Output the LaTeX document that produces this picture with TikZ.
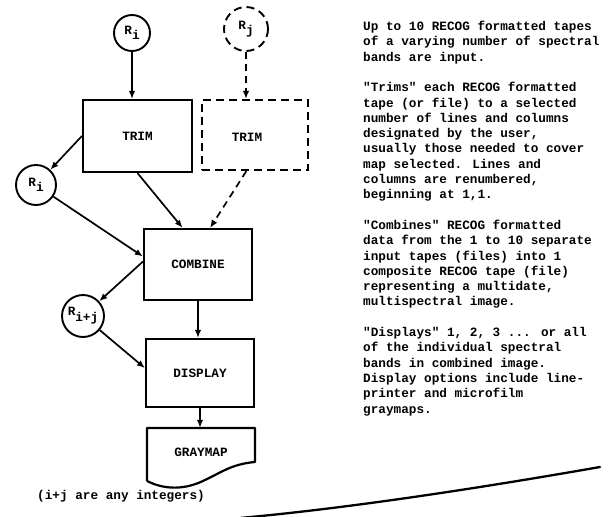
\documentclass[tikz,border=0pt]{standalone}
\usepackage{fontspec}
\newfontfamily\tw{Liberation Mono}
\usetikzlibrary{arrows.meta,calc}
\begin{document}
\begin{tikzpicture}[x=1pt,y=-1pt,
  every node/.style={font=\tw\bfseries\fontsize{12.7}{15.3}\selectfont, inner sep=0pt},
  box/.style={draw, line width=2.2pt},
  dbox/.style={draw, line width=2.2pt, dash pattern=on 8pt off 5pt},
  circ/.style={draw, circle, line width=1.9pt},
  arr/.style={line width=1.7pt, -{Latex[length=8pt,width=6.5pt]}},
  darr/.style={arr, dash pattern=on 7pt off 5pt},
  txt/.style={anchor=base west}]
\useasboundingbox (0,0) rectangle (611,517);

% nodes
\node[circ, minimum size=36pt] (ri1) at (132,33) {R\raisebox{-5pt}{i}};
\node[circ, minimum size=44pt, dash pattern=on 8pt off 5pt] (rj) at (246,29) {R\raisebox{-5pt}{j}};
\node[box, minimum width=109pt, minimum height=72pt] (trim) at (137.5,136) {TRIM};
\node[dbox, minimum width=106pt, minimum height=70pt] (dtrim) at (255,135) {};
\node (dtl) at (247,137) {TRIM};
\node[circ, minimum size=40pt] (ri2) at (36,185) {R\raisebox{-5pt}{i}};
\node[box, minimum width=108pt, minimum height=71pt] (comb) at (198,264.5) {COMBINE};
\node[circ, minimum size=42pt] (rij) at (83,316) {\raisebox{3pt}{R}\raisebox{-3pt}{i+j}};
\node[box, minimum width=108pt, minimum height=68pt] (disp) at (200,373) {DISPLAY};
\node[minimum width=108pt, minimum height=48pt] (gm) at (201,452) {GRAYMAP};
\draw[line width=2.2pt, line join=round] (147,481) -- (147,428) -- (255,428) -- (255,462)
  .. controls (232,464) and (222,472) .. (205,480)
  .. controls (185,490) and (165,490) .. (147,481);

% connectors
\draw[arr] (ri1.south) -- (ri1.south |- trim.north);
\draw[darr] (rj.south) -- (rj.south |- dtrim.north);
\draw[arr] (trim.west) -- (ri2);
\draw[arr] (trim.south) -- ($(comb.north west)!0.36!(comb.north east)$);
\draw[darr] ($(dtrim.south west)!0.42!(dtrim.south east)$) -- ($(comb.north west)!0.61!(comb.north east)$);
\draw[arr] (ri2) -- ($(comb.north west)!0.39!(comb.south west)$);
\draw[arr] ($(comb.north west)!0.46!(comb.south west)$) -- (rij);
\draw[arr] (rij) -- ($(disp.north west)!0.43!(disp.south west)$);
\draw[arr] (comb.south) -- (comb.south |- disp.north);
\draw[arr] (disp.south) -- (disp.south |- gm.north);

\node[txt] (note) at (37,499) {(i+j are any integers)};
\draw[line width=2.3pt, line cap=round] (240,518) .. controls (350,508) and (480,488) .. (600,467);

% description text
\foreach \t [count=\k from 0] in {{Up to 10 RECOG formatted tapes},{of a varying number of spectral},{bands are input.}}
  {\node[txt] (pa\k) at (363,{30.5+15.3*\k}) {\t};}
\foreach \t [count=\k from 0] in {{"Trims" each RECOG formatted},{tape (or file) to a selected},{number of lines and columns},{designated by the user,},{usually those needed to cover},{map selected.  Lines and},{columns are renumbered,},{beginning at 1,1.}}
  {\node[txt] (pb\k) at (363,{91.7+15.3*\k}) {\t};}
\foreach \t [count=\k from 0] in {{"Combines" RECOG formatted},{data from the 1 to 10 separate},{input tapes (files) into 1},{composite RECOG tape (file)},{representing a multidate,},{multispectral image.}}
  {\node[txt] (pc\k) at (363,{229.4+15.3*\k}) {\t};}
\foreach \t [count=\k from 0] in {{"Displays" 1, 2, 3 {.}{.}{.} or all},{of the individual spectral},{bands in combined image.},{Display options include line-},{printer and microfilm},{graymaps.}}
  {\node[txt] (pd\k) at (363,{336.5+15.3*\k}) {\t};}
\end{tikzpicture}
\end{document}
